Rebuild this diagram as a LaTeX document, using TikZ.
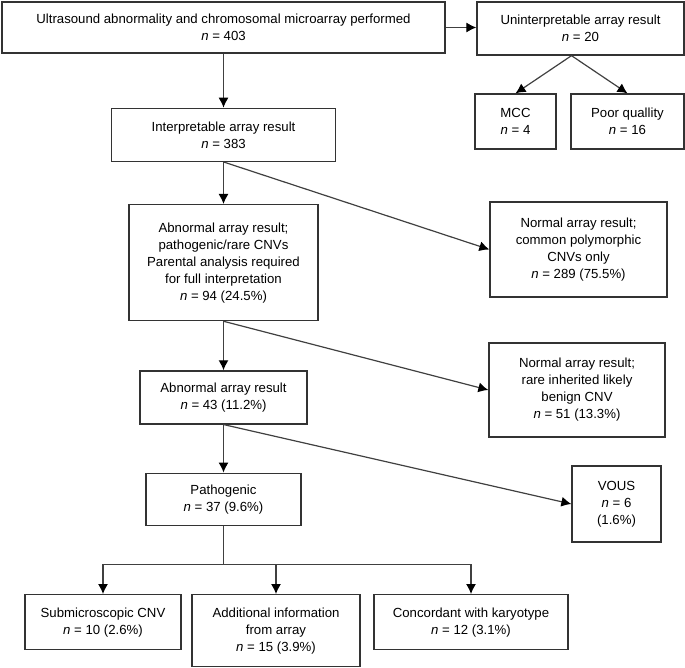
\documentclass[tikz,border=0pt]{standalone}
\usepackage{fontspec}
\setmainfont{Liberation Sans}
\usetikzlibrary{positioning, arrows.meta}

\begin{document}
\begin{tikzpicture}[x=1pt, y=-1pt, node distance = 40pt]

  \tikzstyle{box}=[draw=black!80, line width=1.3pt, align=center, inner sep=0pt, font=\fontsize{13.2}{17}\selectfont]
  \tikzstyle{link}=[-{Latex[length=10pt, width=10pt, black]}, draw=black!75, line width=1.2pt]

  \useasboundingbox (0,0) rectangle (685,667);

  \node [box, minimum width=443pt, minimum height=51pt] (survey) at (223.5, 27.5) {Ultrasound abnormality and chromosomal microarray performed\\ \textit{n} = 403};

  \node [box, minimum width=207pt, minimum height=53pt] (uninterp) at (580.5, 28.5) {Uninterpretable array result\\ \textit{n} = 20};
  \node [box, minimum width=81pt, minimum height=55pt] (mcc) at (515.5, 121.5) {MCC\\ \textit{n} = 4};
  \node [box, minimum width=113pt, minimum height=55pt] (poor) at (627.5, 121.5) {Poor quallity\\ \textit{n} = 16};
  \coordinate (fork) at ([xshift=-9pt] uninterp.south);

  \node [box, minimum width=224pt, minimum height=53pt, below = 54pt of survey] (interp) {Interpretable array result\\ \textit{n} = 383};
  \node [box, minimum width=189pt, minimum height=116pt, below = 42pt of interp] (abn-1) {Abnormal array result;\\ pathogenic/rare CNVs\\ Parental analysis required\\ for full interpretation\\ \textit{n} = 94 (24.5\%)};
  \node [box, minimum width=167pt, minimum height=53pt, below = 49pt of abn-1] (abn-2) {Abnormal array result\\ \textit{n} = 43 (11.2\%)};
  \node [box, minimum width=155pt, minimum height=52pt, below = 48pt of abn-2] (patho) {Pathogenic\\ \textit{n} = 37 (9.6\%)};

  \node [box, minimum width=177pt, minimum height=95pt] (norm-common) at (578.5, 249.5) {Normal array result;\\ common polymorphic\\ CNVs only\\ \textit{n} = 289 (75.5\%)};
  \node [box, minimum width=176pt, minimum height=94pt] (norm-rare) at (577, 390) {Normal array result;\\ rare inherited likely\\ benign CNV\\ \textit{n} = 51 (13.3\%)};
  \node [box, minimum width=89pt, minimum height=76pt] (vous) at (616.5, 504) {VOUS\\ \textit{n} = 6\\ (1.6\%)};

  \coordinate [below = 39pt of patho] (split);

  \node [box, anchor=north, minimum width=156pt, minimum height=55pt] (submicro) at (103, 594) {Submicroscopic CNV\\ \textit{n} = 10 (2.6\%)};
  \node [box, anchor=north, minimum width=168pt, minimum height=72pt] (addinfo) at (276, 594) {Additional information\\ from array\\ \textit{n} = 15 (3.9\%)};
  \node [box, anchor=north, minimum width=194pt, minimum height=55pt] (karyo) at (471, 594) {Concordant with karyotype\\ \textit{n} = 12 (3.1\%)};

  \draw [link] (survey.east) -- (uninterp.west |- survey.east);
  \draw [link] (survey) -- (interp);
  \draw [link] (fork) -- (mcc.north);
  \draw [link] (fork) -- (poor.north);

  \draw [link] (interp) -- (abn-1);
  \draw [link] (interp.south) -- (norm-common.west);
  \draw [link] (abn-1) -- (abn-2);
  \draw [link] (abn-1.south) -- (norm-rare.west);
  \draw [link] (abn-2) -- (patho);
  \draw [link] (abn-2.south) -- (vous.west);

  \draw [draw=black!75, line width=1.2pt] (patho) -- (split);
  \draw [link] (split) -| (submicro);
  \draw [link] (split) -| (addinfo);
  \draw [link] (split) -| (karyo);
\end{tikzpicture}
\end{document}
